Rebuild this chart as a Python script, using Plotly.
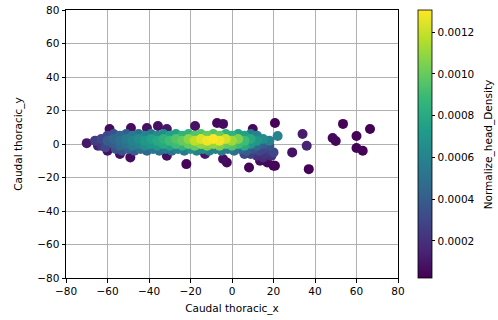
import plotly.graph_objects as go

# Outlier points (x, y, normalized density)
out_x = [-70, -64.6, -60, -54, -49, -59, -48.7, -41, -35.7, -31.4, -17.8, -7.2, -4.3,
         -22, -31.4, -13, -4.3, -2.5, 8.2, 20.7, 20.7, 10, 22, 34, 36, 29, 37,
         53.5, 48.5, 50, 60, 66.5, 60, 63, 17, 13.5, 20]
out_y = [0.5, -1, -4, -6, -8, 9, 9.6, 9.6, 10.7, 9, 10.7, 12.5, 12,
         -12, -7, -6, -9, -11, -14, 12.5, -13, 9, 4.8, 6, -1, -5, -15,
         12, 3.6, 1.8, 4.8, 9, -2.4, -4, -11, -10, -13]
out_d = [0.0001, 0.00012, 0.00008, 0.00008, 0.00006, 0.00006, 0.00007, 0.00008, 0.00008, 0.0001, 0.00008, 0.00005, 0.00006,
         0.00004, 0.00007, 0.0001, 0.00007, 0.00005, 0.00004, 0.00003, 0.00003, 0.00005, 0.0006, 0.00012, 0.00015, 0.00008, 0.00003,
         0.00003, 0.00005, 0.00004, 0.00003, 0.00002, 0.00003, 0.00003, 0.00005, 0.00006, 0.00004]

# Main cluster points
cl_x = [-66,
        -63, -63,
        -60, -60, -61,
        -57, -57, -57, -56,
        -54, -54, -54, -53,
        -51, -51, -51, -50,
        -48, -48, -48, -47,
        -45, -45, -45, -44,
        -42, -42, -42, -41,
        -39, -39, -39, -38,
        -36, -36, -36, -35,
        -33, -33, -33, -32,
        -30, -30, -30, -29,
        -27, -27, -27, -26,
        -24, -24, -24, -23,
        -21, -21, -21, -20,
        -18, -18, -18, -17,
        -15, -15, -15, -14,
        -12, -12, -12, -11,
        -9, -9, -9, -8,
        -6, -6, -6, -5,
        -3, -3, -3, -2,
        0, 0, 0, 1,
        3, 3, 3, 4,
        6, 6, 6, 7, 6,
        9, 9, 9, 10, 9,
        12, 12, 12, 13, 12,
        15, 15, 15, 16, 15,
        18, 18, 18, 19,
        20]
cl_y = [2,
        3, -1,
        2, 5, -2,
        3, 0, 6, -3,
        2, 5, -1, -4,
        3, 0, 6, -3,
        2, 5, -1, -4,
        3, 0, 6, -3,
        2, 5, -1, -4,
        3, 0, 6, -3,
        2, 5, -1, -4,
        3, 0, 6, -3,
        2, 5, -1, -4,
        3, 0, 6, -3,
        2, 5, -1, -4,
        3, 0, 6, -3,
        2, 5, -1, -4,
        3, 0, 6, -3,
        2, 5, -1, -4,
        3, 0, 6, -3,
        2, 5, -1, -4,
        3, 0, 6, -3,
        2, 5, -1, -4,
        3, 0, 6, -3,
        2, 5, -1, -4, -6,
        3, 0, 6, -3, -6,
        2, 5, -1, -4, -7,
        3, 0, -3, -6, -8,
        2, -1, -4, -7,
        -5]
cl_d = [0.00025,
        0.0003, 0.00022,
        0.0004, 0.0003, 0.0003,
        0.00045, 0.0004, 0.00035, 0.00035,
        0.0005, 0.00045, 0.00045, 0.00035,
        0.00055, 0.0005, 0.0004, 0.00042,
        0.0006, 0.00055, 0.00055, 0.0004,
        0.00065, 0.0006, 0.00048, 0.00048,
        0.0007, 0.0006, 0.00065, 0.00045,
        0.00075, 0.0007, 0.00055, 0.00052,
        0.0008, 0.00065, 0.0007, 0.0005,
        0.00085, 0.0008, 0.00065, 0.00055,
        0.0009, 0.00075, 0.00075, 0.00052,
        0.00095, 0.0009, 0.00075, 0.00058,
        0.001, 0.00085, 0.00085, 0.00055,
        0.00108, 0.001, 0.00085, 0.00065,
        0.00118, 0.00095, 0.001, 0.0006,
        0.00124, 0.0011, 0.00095, 0.00065,
        0.00128, 0.001, 0.00105, 0.00058,
        0.0013, 0.0011, 0.00095, 0.0006,
        0.00128, 0.001, 0.00105, 0.00055,
        0.00122, 0.001, 0.00085, 0.00055,
        0.00112, 0.00085, 0.00095, 0.0005,
        0.00105, 0.0009, 0.00075, 0.00045,
        0.0009, 0.00075, 0.0008, 0.0004, 0.0003,
        0.0008, 0.0007, 0.00055, 0.00035, 0.00025,
        0.0007, 0.0006, 0.00045, 0.0003, 0.0002,
        0.00065, 0.0004, 0.0003, 0.00022, 0.00018,
        0.0006, 0.00035, 0.00025, 0.0002,
        0.0003]

x_ticks = [-80, -60, -40, -20, 0, 20, 40, 60, 80]
y_ticks = [-80, -60, -40, -20, 0, 20, 40, 60, 80]
cb_ticks = [0.0002, 0.0004, 0.0006, 0.0008, 0.0010, 0.0012]
cb_labels = ["0.0002", "0.0004", "0.0006", "0.0008", "0.0010", "0.0012"]

xs = out_x + cl_x
ys = out_y + cl_y
ds = out_d + cl_d
order = sorted(range(len(ds)), key=lambda i: ds[i])
xs = [xs[i] for i in order]
ys = [ys[i] for i in order]
ds = [ds[i] for i in order]

def lab(v):
    return str(v).replace("-", "\u2212")

fig = go.Figure(go.Scatter(
    x=xs, y=ys, mode="markers",
    marker=dict(
        size=10, color=ds, colorscale="Viridis", cmin=0.000022, cmax=0.001306,
        line=dict(width=0),
        colorbar=dict(
            x=1.06, xanchor="left", y=0.5, yanchor="middle", len=1, lenmode="fraction",
            xpad=0, ypad=0,
            thickness=14, outlinecolor="black", outlinewidth=0.8,
            tickvals=cb_ticks, ticktext=cb_labels, ticks="outside", ticklen=3.5,
            tickcolor="black", tickfont=dict(size=10.5, color="black"),
        ),
    ),
    showlegend=False,
))

fig.add_annotation(
    text="Normalize_head_Density", xref="paper", yref="paper",
    x=1.272, y=0.5, xanchor="center", yanchor="middle", textangle=-90,
    showarrow=False, font=dict(size=10.5, color="black"),
)

axis_common = dict(
    showline=True, linecolor="black", linewidth=1, mirror=True,
    ticks="outside", ticklen=3.5, tickcolor="black",
    showgrid=True, gridcolor="#b0b0b0", gridwidth=0.8,
    zeroline=False, tickfont=dict(size=10.5, color="black"),
)
fig.update_xaxes(range=[-80, 80], tickvals=x_ticks, ticktext=[lab(v) for v in x_ticks],
                 title=dict(text="Caudal thoracic_x", font=dict(size=10.5, color="black"), standoff=8),
                 **axis_common)
fig.update_yaxes(range=[-80, 80], tickvals=y_ticks, ticktext=[lab(v) for v in y_ticks],
                 title=dict(text="Caudal thoracic_y", font=dict(size=10.5, color="black"), standoff=12),
                 **axis_common)
fig.update_layout(
    width=498, height=320,
    margin=dict(l=66, r=100, t=10, b=42, autoexpand=False),
    plot_bgcolor="white", paper_bgcolor="white",
    font=dict(family="DejaVu Sans", size=10.5, color="black"),
)
fig.write_html("out.html")
